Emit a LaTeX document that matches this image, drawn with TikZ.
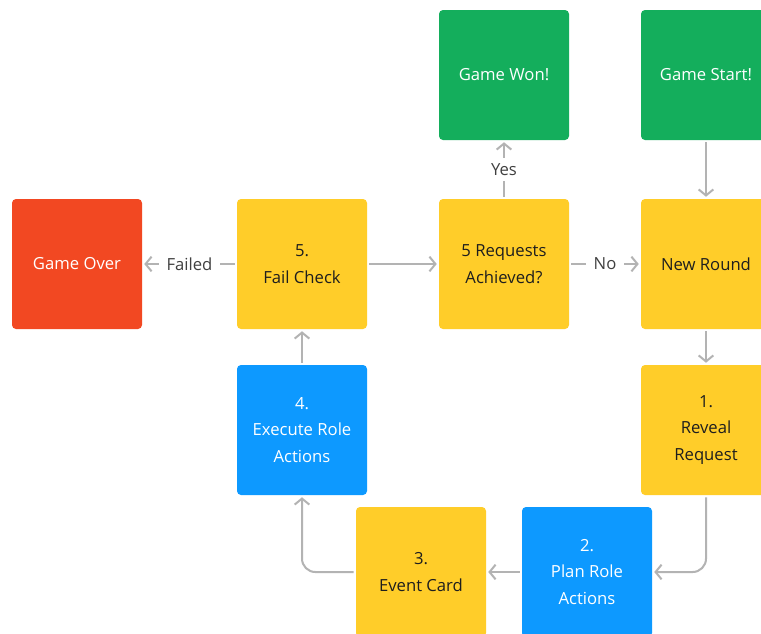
\documentclass[tikz,border=0pt]{standalone}
\usepackage{fontspec}
\setmainfont{Open Sans}
\usetikzlibrary{positioning, arrows.meta}
\definecolor{card_yellow}{RGB}{255, 205, 41}
\definecolor{card_blue}{RGB}{13, 153, 255}
\definecolor{card_green}{RGB}{20, 174, 92}
\definecolor{card_red}{RGB}{242, 72, 34}
\definecolor{link_grey}{RGB}{179, 179, 179}
\definecolor{text_dark}{RGB}{30, 30, 30}
\tikzstyle{card}=[rounded corners=3pt, minimum width=97.5pt, minimum height=97.5pt, inner sep=0pt, align=center, font=\fontsize{12.5}{20}\selectfont]
\tikzstyle{yellowcard}=[card, fill=card_yellow, text=text_dark]
\tikzstyle{bluecard}=[card, fill=card_blue, text=white]
\tikzstyle{greencard}=[card, fill=card_green, text=white]
\tikzstyle{redcard}=[card, fill=card_red, text=white]
\tikzstyle{link}=[draw=link_grey, line width=1.5pt, shorten <=1.5pt, shorten >=1.5pt, -{Straight Barb[length=4.5pt, width=11pt]}]
\tikzstyle{linklabel}=[fill=white, text=text_dark!85, inner xsep=6pt, inner ysep=4pt, font=\fontsize{12.5}{15}\selectfont]

\begin{document}
\begin{tikzpicture}[x=0.75pt, y=-0.75pt]
    \clip (0, 0) rectangle (761, 633);
    \fill[white] (0, 0) rectangle (761, 633);
    % cards
    \node[greencard]  (won)      at (504, 75)  {Game Won!};
    \node[greencard]  (start)    at (706, 75)  {Game Start!};
    \node[redcard]    (over)     at (77, 264)  {Game Over};
    \node[yellowcard] (check)    at (302, 264) {5.\\Fail Check};
    \node[yellowcard] (requests) at (504, 264) {5 Requests\\Achieved?};
    \node[yellowcard] (round)    at (706, 264) {New Round};
    \node[bluecard]   (execute)  at (302, 430) {4.\\Execute Role\\Actions};
    \node[yellowcard] (reveal)   at (706, 430) {1.\\Reveal\\Request};
    \node[yellowcard] (event)    at (421, 572) {3.\\Event Card};
    \node[bluecard]   (plan)     at (587, 572) {2.\\Plan Role\\Actions};
    % links
    \draw[link] (start) -- (round);
    \draw[link] (round) -- (reveal);
    \draw[link, rounded corners=10pt] (reveal.south) |- (plan.east);
    \draw[link] (plan) -- (event);
    \draw[link, rounded corners=10pt] (event.west) -| (execute.south);
    \draw[link] (execute) -- (check);
    \draw[link] (check) -- (requests);
    \draw[link] (requests) -- node[linklabel] {No} (round);
    \draw[link] (requests) -- node[linklabel] {Yes} (won);
    \draw[link] (check) -- node[linklabel] {Failed} (over);
\end{tikzpicture}
\end{document}
